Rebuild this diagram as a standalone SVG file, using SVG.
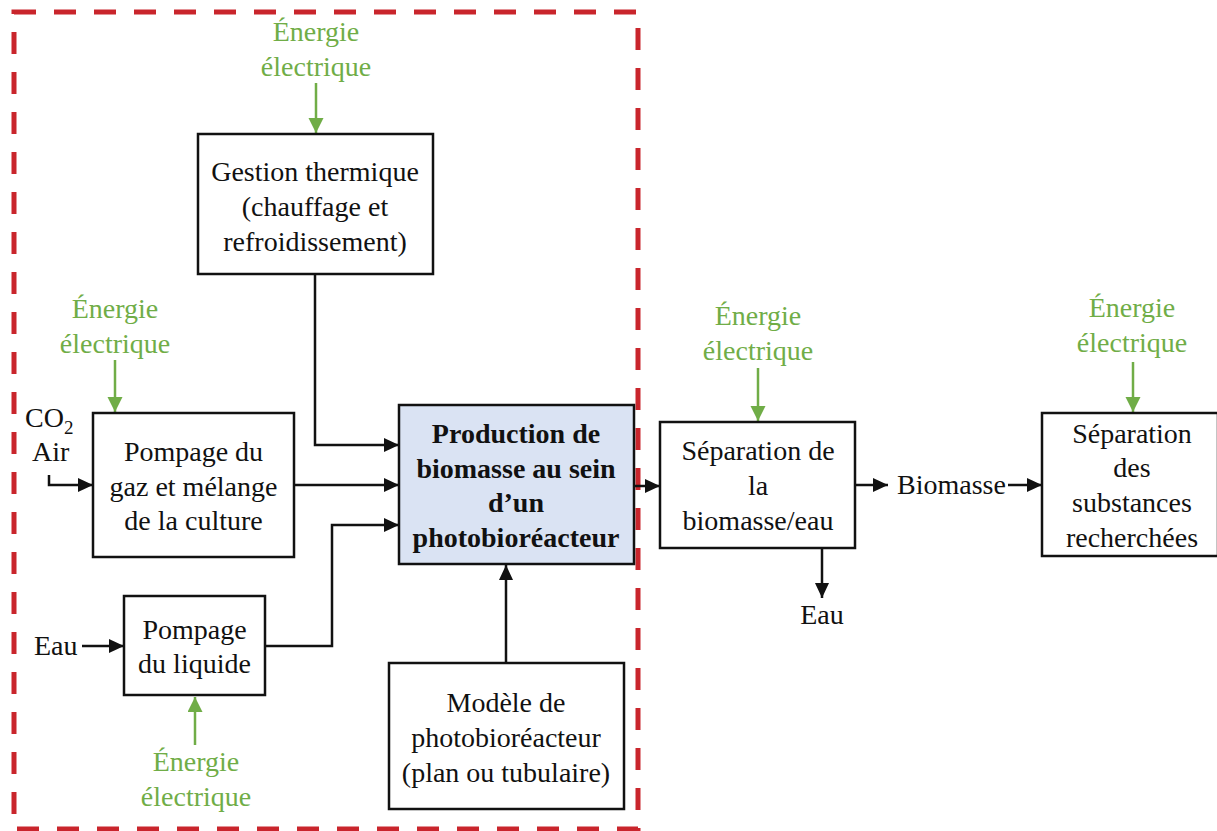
<svg xmlns="http://www.w3.org/2000/svg" width="1217" height="831" viewBox="0 0 1217 831">
<style>
  text { font-family: "Liberation Serif", "Times New Roman", serif; font-size: 28px; fill: #111; }
  .c { text-anchor: middle; }
  .g { fill: #70ad47; }
  .b { font-weight: bold; }
  .box { fill: #fff; stroke: #111; stroke-width: 2.5; }
  .main { fill: #dae3f3; stroke: #111; stroke-width: 2.5; }
  .ln { fill: none; stroke: #111; stroke-width: 2.5; marker-end: url(#ah); }
  .gl { fill: none; stroke: #70ad47; stroke-width: 2.5; marker-end: url(#ag); }
</style>
<defs>
  <marker id="ah" markerUnits="userSpaceOnUse" markerWidth="16" markerHeight="16" refX="15" refY="7" orient="auto">
    <path d="M0,0 L15,7 L0,14 z" fill="#111"/>
  </marker>
  <marker id="ag" markerUnits="userSpaceOnUse" markerWidth="16" markerHeight="16" refX="15" refY="7.5" orient="auto">
    <path d="M0,0 L15,7.5 L0,15 z" fill="#70ad47"/>
  </marker>
</defs>
<rect width="1217" height="831" fill="#fff"/>
<rect id="boundary" x="14" y="12" width="624" height="817" fill="none" stroke="#c9252c" stroke-width="5" stroke-dasharray="22 18"/>

<g id="connectors">
  <path class="ln" d="M315,275 V445 H399"/>
  <path class="ln" d="M294,485 H399"/>
  <path class="ln" d="M265,646 H332 V525 H399"/>
  <path class="ln" d="M49,475 V485 H93"/>
  <path class="ln" d="M82,646 H124"/>
  <path class="ln" d="M506,663 V565"/>
  <path class="ln" d="M617,486 H660"/>
  <path class="ln" d="M855,485 H888"/>
  <path class="ln" d="M1008,485 H1042"/>
  <path class="ln" d="M822,549 V598"/>
  <path class="gl" d="M316,83 V133"/>
  <path class="gl" d="M115,360 V412"/>
  <path class="gl" d="M758,368 V421"/>
  <path class="gl" d="M1133,362 V412"/>
  <path class="gl" d="M195,745 V697"/>
</g>

<g id="gestion">
  <rect class="box" x="198" y="134" width="235" height="140"/>
  <text class="c" x="315" y="181">Gestion thermique</text>
  <text class="c" x="315" y="216">(chauffage et</text>
  <text class="c" x="315" y="251">refroidissement)</text>
</g>
<g id="energie-gestion">
  <text class="c g" x="316" y="41">Énergie</text>
  <text class="c g" x="316" y="76">électrique</text>
</g>

<g id="pompage-gaz">
  <rect class="box" x="93" y="413" width="201" height="144"/>
  <text class="c" x="193.5" y="461">Pompage du</text>
  <text class="c" x="193.5" y="496">gaz et mélange</text>
  <text class="c" x="193.5" y="530">de la culture</text>
</g>
<g id="energie-gaz">
  <text class="c g" x="115" y="318">Énergie</text>
  <text class="c g" x="115" y="353">électrique</text>
</g>
<g id="co2-air">
  <text x="25" y="427">CO<tspan font-size="19" dy="7">2</tspan></text>
  <text x="32" y="461">Air</text>
</g>

<g id="pompage-liquide">
  <rect class="box" x="124" y="596" width="141" height="99"/>
  <text class="c" x="194.5" y="639">Pompage</text>
  <text class="c" x="194.5" y="673">du liquide</text>
</g>
<g id="eau-in">
  <text x="34" y="655">Eau</text>
</g>
<g id="energie-liquide">
  <text class="c g" x="196" y="771">Énergie</text>
  <text class="c g" x="196" y="806">électrique</text>
</g>

<g id="production">
  <rect class="main" x="399" y="405" width="235" height="159"/>
  <text class="c b" x="516" y="443">Production de</text>
  <text class="c b" x="516" y="478">biomasse au sein</text>
  <text class="c b" x="516" y="512">d’un</text>
  <text class="c b" x="516" y="547">photobioréacteur</text>
</g>

<g id="modele">
  <rect class="box" x="389" y="663" width="235" height="146"/>
  <text class="c" x="506" y="712">Modèle de</text>
  <text class="c" x="506" y="747">photobioréacteur</text>
  <text class="c" x="506" y="782">(plan ou tubulaire)</text>
</g>

<g id="separation-eau">
  <rect class="box" x="660" y="422" width="195" height="126"/>
  <text class="c" x="758" y="460">Séparation de</text>
  <text class="c" x="758" y="495">la</text>
  <text class="c" x="758" y="530">biomasse/eau</text>
</g>
<g id="energie-separation">
  <text class="c g" x="758" y="325">Énergie</text>
  <text class="c g" x="758" y="360">électrique</text>
</g>
<g id="eau-out">
  <text class="c" x="822" y="624">Eau</text>
</g>
<g id="biomasse">
  <text x="897" y="494">Biomasse</text>
</g>

<g id="separation-substances">
  <rect class="box" x="1042" y="413" width="176" height="143"/>
  <text class="c" x="1132" y="443">Séparation</text>
  <text class="c" x="1132" y="477">des</text>
  <text class="c" x="1132" y="512">substances</text>
  <text class="c" x="1132" y="547">recherchées</text>
</g>
<g id="energie-substances">
  <text class="c g" x="1132" y="317">Énergie</text>
  <text class="c g" x="1132" y="352">électrique</text>
</g>
</svg>
